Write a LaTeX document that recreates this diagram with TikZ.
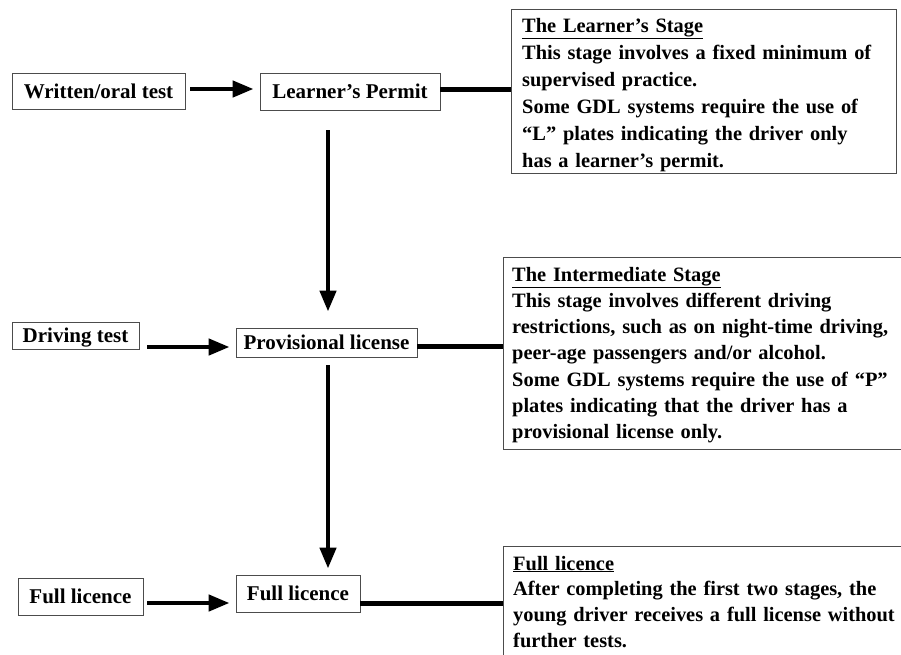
\documentclass[tikz,border=0pt]{standalone}
\usepackage{fontspec}
\setmainfont{Liberation Serif}
\usetikzlibrary{arrows.meta,calc}
\begin{document}
\begin{tikzpicture}[x=1pt,y=-1pt,
  smallbox/.style={draw=black!70, line width=0.9pt, inner sep=0pt,
    font=\fontsize{21}{25}\selectfont\bfseries, text height=14pt, text depth=0pt},
  bigbox/.style={draw=black!70, line width=0.9pt, inner sep=0pt, anchor=north west},
  boxtext/.style={anchor=base west, inner sep=0pt, text width=400pt, align=left},
  arr/.style={line width=4.5pt, -{Triangle[length=21pt,width=16pt]}},
  conn/.style={line width=5pt}]
\useasboundingbox (0,0) rectangle (901,654);
\clip (0,0) rectangle (901,654);
% small boxes
\node[smallbox, minimum width=173pt, minimum height=36pt] (wot) at (98.5,91) {Written/oral test};
\node[smallbox, minimum width=180pt, minimum height=37pt] (lp) at (350,91.5) {Learner’s Permit};
\node[smallbox, minimum width=127pt, minimum height=27pt] (dt) at (75.5,335.5) {Driving test};
\node[smallbox, minimum width=181pt, minimum height=29pt] (pl) at (326.5,342.5) {Provisional license};
\node[smallbox, minimum width=125pt, minimum height=37pt] (fla) at (80.5,596.5) {Full licence};
\node[smallbox, minimum width=124pt, minimum height=37pt] (flb) at (298,593.5) {Full licence};
% big boxes
\node[bigbox, minimum width=385pt, minimum height=164pt] (s1) at (511,9) {};
\node[bigbox, minimum width=420pt, minimum height=192pt] (s2) at (503,257) {};
\node[bigbox, minimum width=420pt, minimum height=140pt] (s3) at (503,546) {};
% texts
\node[boxtext, font=\fontsize{20.4}{27}\selectfont\bfseries] (t1) at (522,32)
  {\underline{The Learner’s Stage}\\
   This stage involves a fixed minimum of\\
   supervised practice.\\
   Some GDL systems require the use of\\
   “L” plates indicating the driver only\\
   has a learner’s permit.};
\node[boxtext, font=\fontsize{20.4}{26.3}\selectfont\bfseries] (t2) at (512,281)
  {\underline{The Intermediate Stage}\\
   This stage involves different driving\\
   restrictions, such as on night-time driving,\\
   peer-age passengers and/or alcohol.\\
   Some GDL systems require the use of “P”\\
   plates indicating that the driver has a\\
   provisional license only.};
\node[boxtext, font=\fontsize{20.4}{25.7}\selectfont\bfseries] (t3) at (513,570)
  {\underline{Full licence}\\
   After completing the first two stages, the\\
   young driver receives a full license without\\
   further tests.};
% connectors
\draw[arr] ($(wot.east)+(5,-2)$) -- ($(lp.west)+(-6,-2.5)$);
\draw[conn] ($(lp.east)+(0,-2.5)$) -- ($(lp.east -| s1.west)+(0,-2.5)$);
\draw[arr] ($(lp.south -| pl.north)+(1.5,20)$) -- ($(pl.north)+(1.5,-16)$);
\draw[arr] ($(dt.east |- pl.west)+(8,4.5)$) -- ($(pl.west)+(-6,4.5)$);
\draw[conn] ($(pl.east)+(0,3.5)$) -- ($(pl.east -| s2.west)+(0,3.5)$);
\draw[arr] ($(pl.south)+(1.5,8)$) -- ($(pl.south |- flb.north)+(1.5,-6)$);
\draw[arr] ($(fla.east |- flb.west)+(4,9.5)$) -- ($(flb.west)+(-6,9.5)$);
\draw[conn] ($(flb.east)+(0,9.5)$) -- ($(flb.east -| s3.west)+(0,9.5)$);
\end{tikzpicture}
\end{document}
